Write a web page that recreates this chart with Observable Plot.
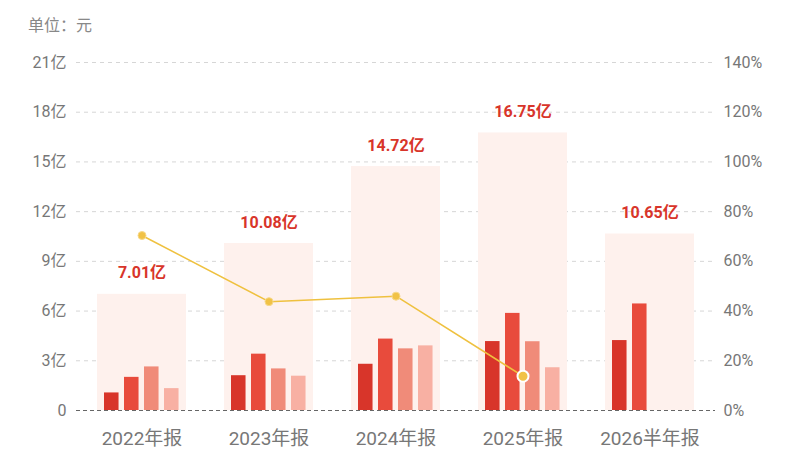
<!DOCTYPE html>
<html><head><meta charset="utf-8">
<script src="https://cdn.jsdelivr.net/npm/d3@7"></script>
<script src="https://cdn.jsdelivr.net/npm/@observablehq/plot@0.6"></script>
<style>
body{margin:0;background:#fff;font-family:Roboto,"Noto Sans CJK SC",sans-serif;}
#wrap{position:relative;width:800px;height:450px;overflow:hidden;}
#unit{position:absolute;left:28px;top:12px;font-size:16px;color:#888;font-family:"Noto Sans CJK SC",sans-serif;}
</style></head><body>
<div id="wrap"><div id="unit">单位：元</div></div>
<script>
const periods = ["2022年报","2023年报","2024年报","2025年报","2026半年报"];
const totals = [7.01,10.08,14.72,16.75,10.65];
const totalLabels = ["7.01亿","10.08亿","14.72亿","16.75亿","10.65亿"];
const q1 = [1.06,2.10,2.79,4.16,4.22];
const q2 = [2.00,3.40,4.31,5.86,6.43];
const q3 = [2.63,2.51,3.72,4.15,null];
const q4 = [1.32,2.07,3.90,2.58,null];
const growth = [70.4,43.8,46.0,13.8,null];
const yTicks = [0,3,6,9,12,15,18,21];
const yTickLabels = ["0","3亿","6亿","9亿","12亿","15亿","18亿","21亿"];
const pctTicks = [0,20,40,60,80,100,120,140];
const pctTickLabels = ["0%","20%","40%","60%","80%","100%","120%","140%"];
const quarterColors = ["#d8352a","#e84b3c","#f08b79","#f8b0a3"];

const W = 800, H = 450, ML = 76, MR = 85, MT = 62, MB = 40;
const pctToY = 21 / 140;
const bw = (W - ML - MR) / periods.length * 0.7;
const rows = periods.map((p, i) => ({period: p, total: totals[i], label: totalLabels[i], q: [q1[i], q2[i], q3[i], q4[i]], growth: growth[i]}));
const growthRows = rows.filter(d => d.growth != null);

const quarterMarks = [0,1,2,3].map(k => Plot.barY(rows.filter(d => d.q[k] != null), {
  x: "period", y: d => d.q[k], fill: quarterColors[k],
  insetLeft: 7 + 20 * k, insetRight: bw - (7 + 20 * k + 15)
}));

const chart = Plot.plot({
  width: W, height: H,
  marginLeft: ML, marginRight: MR, marginTop: MT, marginBottom: MB,
  style: {fontFamily: 'Roboto,"Noto Sans CJK SC",sans-serif', background: "#fff"},
  x: {domain: periods, paddingInner: 0.3, paddingOuter: 0.15, axis: null, label: null},
  y: {domain: [0, 21], axis: null, label: null},
  marks: [
    Plot.gridY(yTicks.slice(1), {stroke: "#d6d6d6", strokeOpacity: 1, strokeDasharray: "4,4"}),
    Plot.barY(rows, {x: "period", y: "total", fill: "#fef1ed"}),
    ...quarterMarks,
    Plot.ruleY([0], {stroke: "#666", strokeDasharray: "4,3"}),
    Plot.text(rows, {x: "period", y: "total", text: "label", dy: -21, fill: "#d8352a", fontWeight: "bold", fontSize: 16}),
    Plot.line(growthRows, {x: "period", y: d => d.growth * pctToY, stroke: "#efc13f", strokeWidth: 1.5}),
    Plot.dot(growthRows.filter(d => d.period !== "2025年报"), {x: "period", y: d => d.growth * pctToY, r: 4, fill: "#f1c246", stroke: "#f7d98a", strokeWidth: 1}),
    Plot.dot(growthRows.filter(d => d.period === "2025年报"), {x: "period", y: d => d.growth * pctToY, r: 5.5, fill: "#f1c246", stroke: "#fff", strokeWidth: 2}),
    Plot.axisY(yTicks, {anchor: "left", label: null, tickSize: 0, tickPadding: 10, tickFormat: (d, i) => yTickLabels[i], fontSize: 16, color: "#777"}),
    Plot.axisY(pctTicks.map(p => p * pctToY), {anchor: "right", label: null, tickSize: 0, tickPadding: 8, tickFormat: (d, i) => pctTickLabels[i], fontSize: 16, color: "#777"}),
    Plot.axisX(periods, {anchor: "bottom", label: null, tickSize: 0, tickPadding: 21, fontSize: 19, color: "#777"})
  ]
});
document.getElementById("wrap").appendChild(chart);
</script>
</body></html>
